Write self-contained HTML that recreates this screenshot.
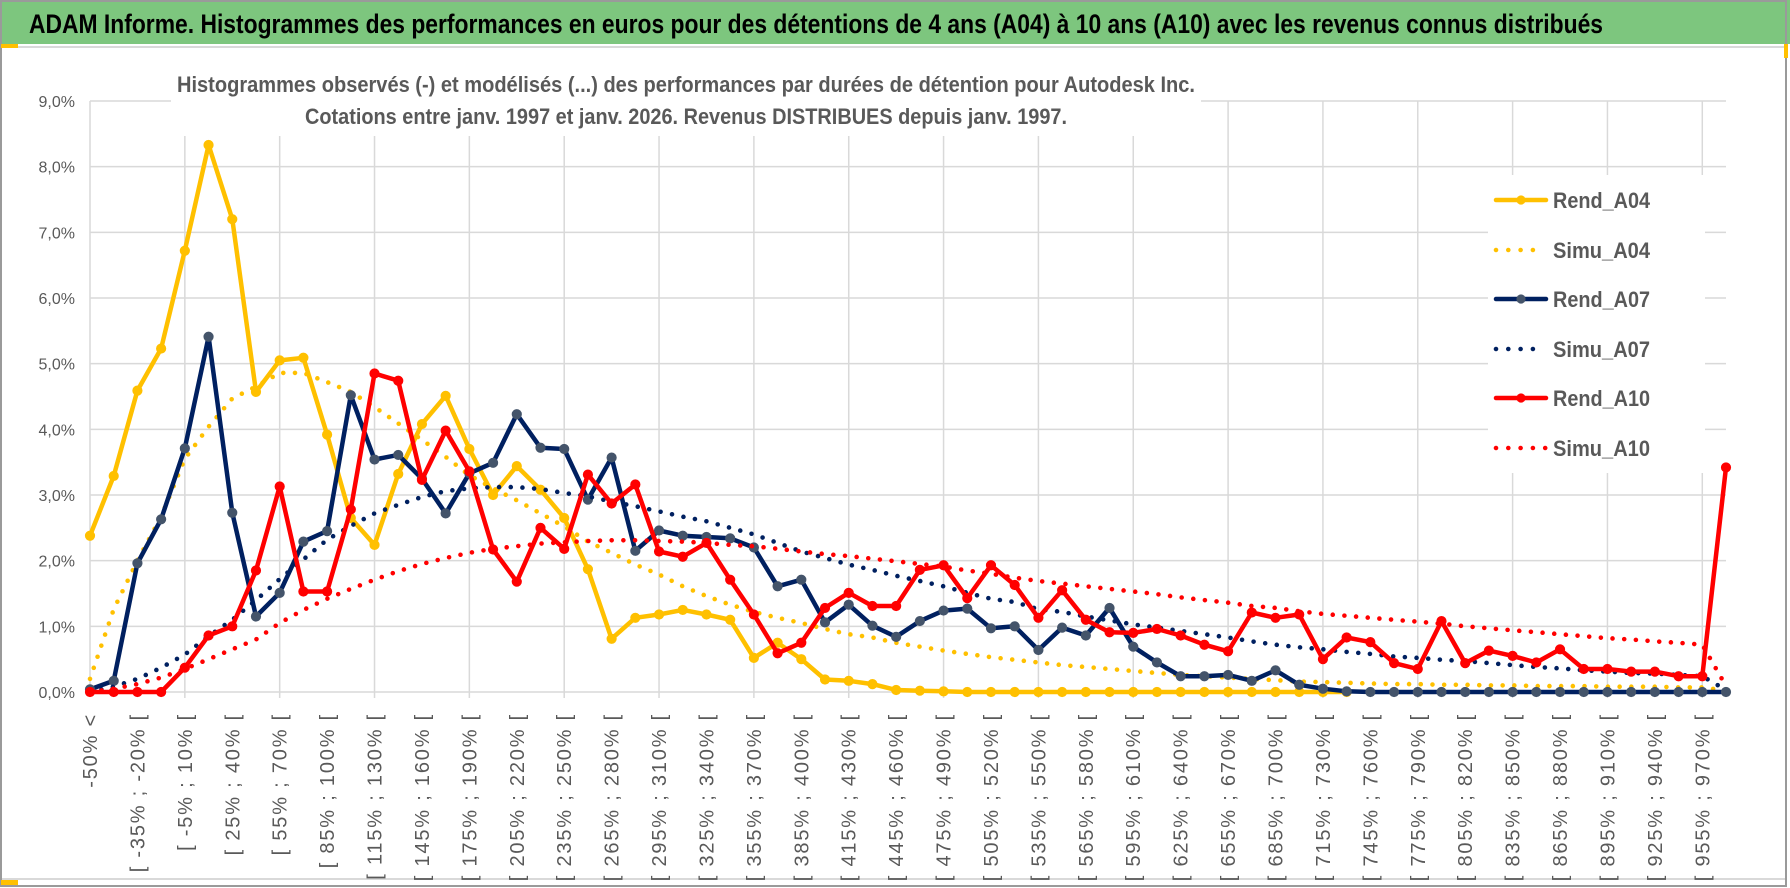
<!DOCTYPE html>
<html lang="fr">
<head>
<meta charset="utf-8">
<title>ADAM Informe - Histogrammes Autodesk</title>
<style>
  html,body{margin:0;padding:0;background:#fff;}
  body{width:1790px;height:888px;overflow:hidden;}
  svg{display:block;font-family:"Liberation Sans",Arial,sans-serif;}
</style>
</head>
<body>
<svg id="chart" width="1790" height="888" viewBox="0 0 1790 888" xmlns="http://www.w3.org/2000/svg">
  <rect x="0" y="0" width="1790" height="888" fill="#ffffff"/>
  <rect x="0" y="0" width="1790" height="44" fill="#7dc67e"/>
  <text x="29" y="33" font-size="27" font-weight="bold" fill="#000" textLength="1574" lengthAdjust="spacingAndGlyphs">ADAM Informe. Histogrammes des performances en euros pour des détentions de 4 ans (A04) à 10 ans (A10) avec les revenus connus distribués</text>
  <line x1="0" y1="47" x2="1786" y2="47" stroke="#d9d9d9" stroke-width="2"/>
  <line x1="0" y1="879" x2="1786" y2="879" stroke="#d9d9d9" stroke-width="2"/>
  <rect x="1" y="1" width="1785" height="885" fill="none" stroke="#9a9a9a" stroke-width="2"/>
  <rect x="1" y="44" width="17" height="4" fill="#ffc000"/>
  <rect x="1" y="880" width="17" height="5" fill="#ffc000"/>
  <rect x="1784" y="44" width="4" height="14" fill="#ffc000"/>
  <g id="grid"></g>
  <g id="yticks"></g>
  <g id="xticks"></g>
  <rect x="171" y="60" width="1030" height="76" fill="#ffffff"/>
  <text x="177" y="92" font-size="22" font-weight="bold" fill="#595959" textLength="1018" lengthAdjust="spacingAndGlyphs">Histogrammes observés (-) et modélisés (...) des performances par durées de détention pour Autodesk Inc.</text>
  <text x="305" y="124" font-size="22" font-weight="bold" fill="#595959" textLength="762" lengthAdjust="spacingAndGlyphs">Cotations entre janv. 1997 et janv. 2026. Revenus DISTRIBUES depuis janv. 1997.</text>
  <g id="series"></g>
  <g id="legend"></g>
</svg>
<script>
// ---- data ----
const rendA04 = [2.38,3.29,4.59,5.23,6.72,8.33,7.20,4.57,5.05,5.09,
  3.92,2.65,2.24,3.32,4.08,4.51,3.70,3.00,3.44,3.08,
  2.65,1.87,0.81,1.13,1.18,1.25,1.18,1.10,0.52,0.75,
  0.50,0.19,0.17,0.12,0.03,0.02,0.01,0,0,0,
  0,0,0,0,0,0,0,0,0,0,
  0,0,0,0,null,null,null,null,null,null,
  null,null,null,null,null,null,null,null,null,null];
const simuA04 = [0.20,1.26,2.00,2.67,3.55,4.04,4.47,4.65,4.86,4.86,
  4.72,4.57,4.34,4.09,3.84,3.58,3.30,3.10,2.92,2.72,
  2.52,2.29,2.12,1.94,1.79,1.61,1.46,1.33,1.22,1.13,
  1.05,0.96,0.88,0.83,0.75,0.69,0.63,0.58,0.53,0.49,
  0.45,0.41,0.38,0.35,0.32,0.29,0.26,0.24,0.22,0.20,
  0.18,0.16,0.15,0.14,0.13,0.12,0.12,0.11,0.11,0.10,
  0.10,0.09,0.09,0.09,0.08,0.08,0.08,0.07,0.07,0.02];
const rendA07 = [0.04,0.17,1.96,2.63,3.71,5.41,2.73,1.15,1.51,2.29,
  2.45,4.52,3.54,3.61,3.25,2.72,3.33,3.49,4.23,3.72,
  3.70,2.93,3.57,2.15,2.46,2.38,2.36,2.34,2.20,1.61,
  1.71,1.06,1.33,1.01,0.84,1.08,1.24,1.27,0.97,1.00,
  0.64,0.98,0.86,1.28,0.69,0.45,0.24,0.24,0.26,0.17,
  0.33,0.11,0.05,0.01,0,0,0,0,0,0,
  0,0,0,0,0,0,0,0,0,0];
const simuA07 = [0,0.08,0.20,0.37,0.57,0.85,1.10,1.40,1.72,2.02,
  2.32,2.53,2.72,2.85,2.97,3.06,3.10,3.12,3.12,3.09,
  3.03,2.98,2.90,2.83,2.75,2.67,2.60,2.50,2.40,2.27,
  2.14,2.04,1.94,1.86,1.77,1.69,1.61,1.51,1.42,1.37,
  1.26,1.22,1.15,1.09,1.03,0.98,0.93,0.88,0.83,0.77,
  0.72,0.68,0.65,0.61,0.58,0.54,0.52,0.49,0.47,0.44,
  0.41,0.38,0.36,0.33,0.31,0.29,0.28,0.26,0.24,0.03];
const rendA10 = [0,0,0,0,0.37,0.86,1.00,1.85,3.13,1.53,
  1.53,2.78,4.85,4.74,3.23,3.98,3.36,2.17,1.68,2.50,
  2.18,3.31,2.87,3.16,2.14,2.06,2.27,1.71,1.18,0.59,
  0.75,1.28,1.51,1.31,1.31,1.86,1.93,1.43,1.93,1.63,
  1.13,1.55,1.10,0.91,0.90,0.96,0.86,0.72,0.62,1.21,
  1.13,1.18,0.50,0.83,0.76,0.44,0.35,1.08,0.44,0.63,
  0.55,0.45,0.65,0.35,0.35,0.31,0.31,0.24,0.24,3.42];
const simuA10 = [0,0.05,0.12,0.22,0.35,0.50,0.65,0.80,1.05,1.25,
  1.42,1.57,1.71,1.84,1.95,2.04,2.12,2.18,2.22,2.26,
  2.28,2.30,2.31,2.31,2.30,2.29,2.27,2.24,2.22,2.18,
  2.14,2.10,2.07,2.03,1.99,1.95,1.91,1.85,1.80,1.74,
  1.69,1.65,1.61,1.57,1.53,1.49,1.44,1.40,1.36,1.31,
  1.28,1.23,1.19,1.16,1.13,1.10,1.07,1.04,1.00,0.97,
  0.94,0.91,0.88,0.85,0.82,0.80,0.77,0.75,0.72,0.09];
const yTicks = [0,1,2,3,4,5,6,7,8,9];
const yTickLabels = ["0,0%","1,0%","2,0%","3,0%","4,0%","5,0%","6,0%","7,0%","8,0%","9,0%"];
const categories = ["-50% <"];
for (let k = 1; k <= 68; k++) { const a = -50 + 15 * (k - 1); categories.push("[ " + a + "% ; " + (a + 15) + "% ["); }
categories.push("970% <");

// ---- axes ----
const NS = "http://www.w3.org/2000/svg";
const X0 = 90, X1 = 1726, Y0 = 692, Y9 = 101;
const step = (X1 - X0) / (categories.length - 1);
function xs(i) { return X0 + i * step; }
function ys(v) { return Y0 - (v / 9) * (Y0 - Y9); }
function mk(tag, attrs, parent) {
  const e = document.createElementNS(NS, tag);
  for (const k in attrs) e.setAttribute(k, attrs[k]);
  parent.appendChild(e); return e;
}

const grid = document.getElementById('grid');
yTicks.forEach((t, j) => {
  const l = mk('line', {x1: X0, x2: X1, y1: ys(t), y2: ys(t), stroke: '#d9d9d9', 'stroke-width': 1.5}, grid);
  
  
  const tx = mk('text', {x: 75, y: ys(t) + 6, 'text-anchor': 'end', 'font-size': 16, fill: '#595959'}, document.getElementById('yticks'));
  tx.textContent = yTickLabels[j];
  
  
});
for (let i = 0; i < categories.length; i += 4) {
  const l = mk('line', {x1: xs(i), x2: xs(i), y1: Y9, y2: Y0 + (i === 0 ? 0 : 6), stroke: '#d9d9d9', 'stroke-width': 1.5}, grid);
  
  
}
for (let i = 0; i < categories.length - 1; i += 2) {
  const x = xs(i) + 7, y = 713;
  const tx = mk('text', {x: x, y: y, 'text-anchor': 'end', 'font-size': 20, 'letter-spacing': '1.8', fill: '#595959', transform: 'rotate(-90 ' + x + ' ' + y + ')'}, document.getElementById('xticks'));
  tx.textContent = categories[i];
  
  
}

// ---- series ----
const seriesDefs = [
  {name: 'Rend_A04', data: rendA04, color: '#ffc000', dotted: false, marker: '#ffc000'},
  {name: 'Simu_A04', data: simuA04, color: '#ffc000', dotted: true},
  {name: 'Rend_A07', data: rendA07, color: '#002060', dotted: false, marker: '#44546a'},
  {name: 'Simu_A07', data: simuA07, color: '#002060', dotted: true},
  {name: 'Rend_A10', data: rendA10, color: '#ff0000', dotted: false, marker: '#ff0000'},
  {name: 'Simu_A10', data: simuA10, color: '#ff0000', dotted: true}
];
const sg = document.getElementById('series');
seriesDefs.forEach(s => {
  const g = mk('g', {}, sg);
  
  
  let d = '', pen = false;
  s.data.forEach((v, i) => {
    if (v === null) { pen = false; return; }
    d += (pen ? 'L' : 'M') + xs(i).toFixed(1) + ' ' + ys(v).toFixed(1) + ' ';
    pen = true;
  });
  const p = mk('path', {d: d, fill: 'none', stroke: s.color, 'stroke-width': s.dotted ? 4.6 : 4.5, 'stroke-linejoin': 'round', 'stroke-linecap': 'round'}, g);
  if (s.dotted) p.setAttribute('stroke-dasharray', '0 11.7');
  
  
  if (!s.dotted) {
    s.data.forEach((v, i) => {
      if (v === null) return;
      const c = mk('circle', {cx: xs(i), cy: ys(v), r: 4.6, fill: s.marker, stroke: s.marker, 'stroke-width': 1}, g);
      
      
    });
  }
});

// ---- legend ----
const lg = document.getElementById('legend');
const bg = mk('rect', {x: 1488, y: 175, width: 217, height: 298, fill: '#ffffff'}, lg);


const rowY = [200, 250, 299, 349, 398, 448];
seriesDefs.forEach((s, j) => {
  const g = mk('g', {}, lg);
  
  
  const y = rowY[j];
  if (s.dotted) {
    const l = mk('line', {x1: 1496, x2: s.name === 'Simu_A10' ? 1546 : 1536, y1: y, y2: y, stroke: s.color, 'stroke-width': 4.6, 'stroke-linecap': 'round', 'stroke-dasharray': '0 12.3'}, g);
    
    
  } else {
    const l = mk('line', {x1: 1496, x2: 1546, y1: y, y2: y, stroke: s.color, 'stroke-width': 4.5, 'stroke-linecap': 'round'}, g);
    
    
    const c = mk('circle', {cx: 1521, cy: y, r: 4.6, fill: s.marker}, g);
    
    
  }
  const t = mk('text', {x: 1553, y: y + 8, 'font-size': 22, 'font-weight': 'bold', fill: '#595959', textLength: 97, lengthAdjust: 'spacingAndGlyphs'}, g);
  t.textContent = s.name;
  
  
});
</script>
</body>
</html>
